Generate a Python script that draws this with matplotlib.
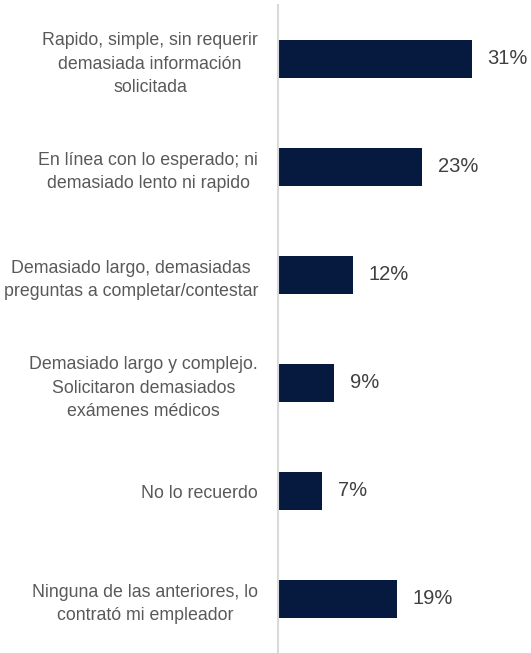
import matplotlib.pyplot as plt

categories = [
    "Rapido, simple, sin requerir\ndemasiada información\nsolicitada",
    "En línea con lo esperado; ni\ndemasiado lento ni rapido",
    "Demasiado largo, demasiadas\npreguntas a completar/contestar",
    "Demasiado largo y complejo.\nSolicitaron demasiados\nexámenes médicos",
    "No lo recuerdo",
    "Ninguna de las anteriores, lo\ncontrató mi empleador",
]
values = [31, 23, 12, 9, 7, 19]

plt.rcParams['font.family'] = ['Liberation Sans', 'DejaVu Sans']

fig = plt.figure(figsize=(5.31, 6.53), dpi=100)
ax = fig.add_axes([278 / 531, 0, 1 - 278 / 531, 1 - 5 / 653])

y = list(range(len(values)))
ax.barh(y, values, height=0.35, color='#061a40')
ax.set_ylim(len(values) - 0.5, -0.5)
ax.set_xlim(0, 40.5)

# percentage next to each bar
for yi, v in zip(y, values):
    ax.annotate(f"{v}%", (v, yi), xytext=(11.5, 0), textcoords='offset points',
                va='center', ha='left', fontsize=14.5, color='#404040')

ax.set_yticks(y)
ax.set_yticklabels(categories, fontsize=12.8, color='#595959',
                   multialignment='center', linespacing=1.5)
ax.tick_params(axis='y', length=0, pad=14.4)
ax.set_xticks([])

for s in ['top', 'right', 'bottom']:
    ax.spines[s].set_visible(False)
ax.spines['left'].set_color('#d9d9d9')
ax.spines['left'].set_linewidth(1.5)

fig.savefig('out.png', dpi=100)
